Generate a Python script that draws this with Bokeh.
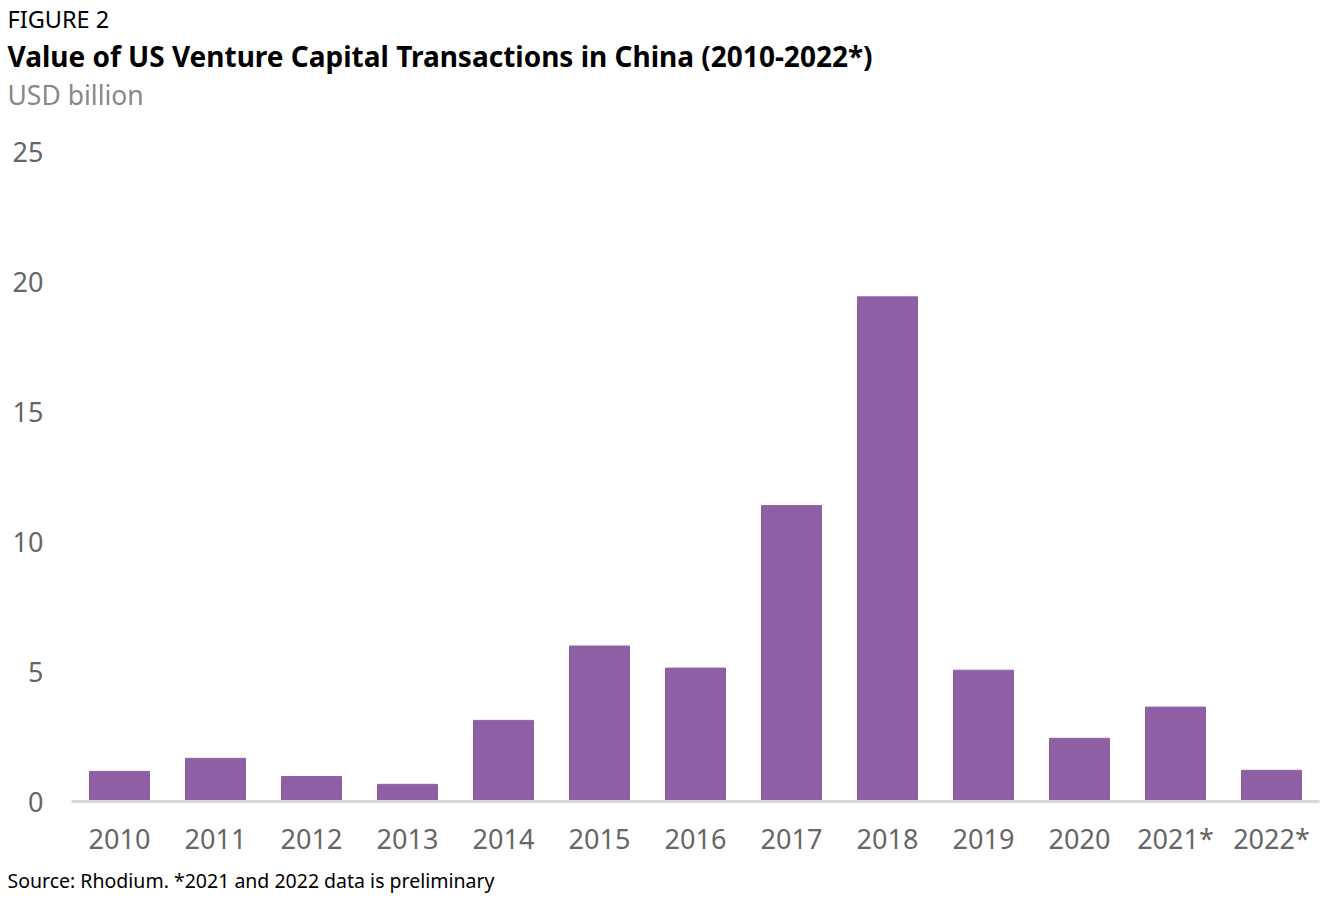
from bokeh.plotting import figure
from bokeh.models import Title, Range1d, FixedTicker
from bokeh.embed import file_html
from bokeh.resources import INLINE

years = ["2010", "2011", "2012", "2013", "2014", "2015", "2016", "2017", "2018", "2019", "2020", "2021*", "2022*"]
values = [1.16, 1.66, 0.96, 0.66, 3.12, 5.98, 5.13, 11.38, 19.41, 5.05, 2.43, 3.63, 1.20]
y_ticks = [0, 5, 10, 15, 20, 25]

FONT = "Noto Sans"
BAR = "#8F5FA3"

p = figure(x_range=years, width=1322, height=898, output_backend="svg",
           toolbar_location=None, min_border_left=71, min_border_right=3,
           min_border_top=10, min_border_bottom=10)
p.y_range = Range1d(0, 25)
p.vbar(x=years, top=values, width=0.625, color=BAR)

p.outline_line_color = None
p.grid.grid_line_color = None
p.background_fill_color = "white"

p.yaxis.ticker = FixedTicker(ticks=y_ticks)
p.yaxis.axis_line_color = None
p.yaxis.major_tick_line_color = None
p.yaxis.minor_tick_line_color = None
p.yaxis.major_label_text_font = FONT
p.yaxis.major_label_text_font_size = "27px"
p.yaxis.major_label_text_color = "#666666"
p.yaxis.major_label_standoff = 22

p.xaxis.axis_line_color = "#d9d9d9"
p.xaxis.axis_line_width = 3
p.xaxis.major_tick_line_color = None
p.xaxis.minor_tick_line_color = None
p.xaxis.major_label_text_font = FONT
p.xaxis.major_label_text_font_size = "27px"
p.xaxis.major_label_text_color = "#666666"
p.xaxis.major_label_standoff = 12

src = Title(text="Source: Rhodium. *2021 and 2022 data is preliminary", text_font=FONT,
            text_font_size="19.5px", text_font_style="normal", text_color="#000000",
            align="left", offset=-64, standoff=10)
p.add_layout(src, "below")

spacer = Title(text=" ", text_font=FONT, text_font_size="27px", standoff=0)
p.add_layout(spacer, "above")
sub = Title(text="USD billion", text_font=FONT, text_font_size="26.5px",
            text_font_style="normal", text_color="#888888", align="left", offset=-64,
            standoff=0)
p.add_layout(sub, "above")
main = Title(text="Value of US Venture Capital Transactions in China (2010-2022*)",
             text_font=FONT, text_font_size="28px", text_font_style="bold",
             text_color="#000000", align="left", offset=-64, standoff=0)
p.add_layout(main, "above")
fig = Title(text="FIGURE 2", text_font=FONT, text_font_size="23.5px",
            text_font_style="normal", text_color="#000000", align="left", offset=-64,
            standoff=0)
p.add_layout(fig, "above")

open("out.html", "w").write(file_html(p, INLINE))
